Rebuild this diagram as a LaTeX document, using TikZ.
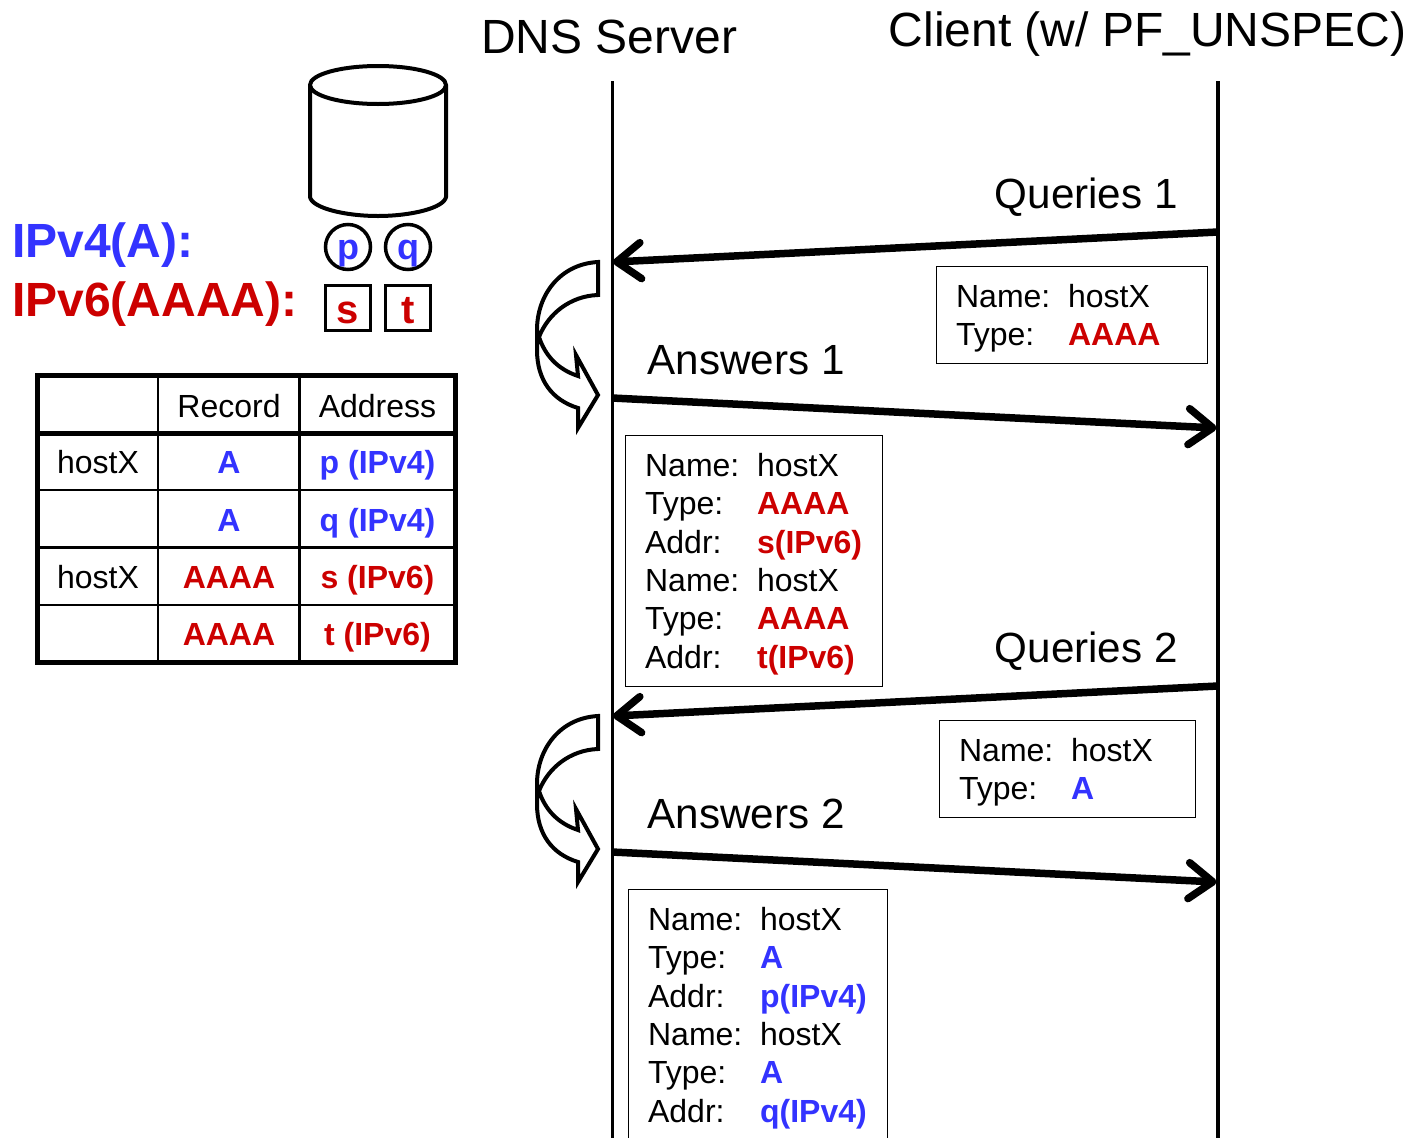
\documentclass[tikz,border=0pt]{standalone}
\usepackage{fontspec}
\setmainfont{Liberation Sans}
\usetikzlibrary{positioning,arrows.meta}
\definecolor{vfour}{RGB}{51,51,255}
\definecolor{vsix}{RGB}{204,0,0}
\tikzset{title/.style={anchor=base west,inner sep=0pt,font=\fontsize{48}{50}\selectfont},
	 msglabel/.style={anchor=base west,inner sep=0pt,font=\fontsize{42.2}{44}\selectfont},
	 family/.style={anchor=base west,inner sep=0pt,font=\fontsize{48}{50}\selectfont\bfseries},
	 cell/.style={anchor=base,inner sep=0pt,font=\fontsize{32}{34}\selectfont},
	 bcell/.style={cell,font=\fontsize{32}{34}\selectfont\bfseries},
	 caddr/.style={circle,draw=black,line width=3.5pt,inner sep=0pt,minimum size=45pt,text height=25pt,text depth=0pt,text=vfour,font=\fontsize{36}{38}\selectfont\bfseries},
	 saddr/.style={rectangle,draw=black,line width=3.5pt,inner sep=0pt,minimum size=45pt,text height=30pt,text depth=0pt,text=vsix,font=\fontsize{40}{42}\selectfont\bfseries},
	 msgbox/.style={draw,line width=1.2pt,anchor=north west,inner xsep=20pt,inner ysep=11.5pt,align=left,text width=#1,
		font=\fontsize{32}{38.3}\selectfont,execute at begin node={\rule{0pt}{29.5pt}}},
	 lifeline/.style={line width=3.5pt},
	 msg/.style={line width=7.5pt,-{Straight Barb[length=24pt,width=36pt,round]}},
	 grid/.style={line width=2.5pt},
	 frame/.style={line width=5pt},
	 turn/.pic={\draw[line width=4pt,line join=miter,fill=white] (598,262) .. controls (560,264) and (537,295) .. (537,330) -- (537,350)
		.. controls (537,380) and (552,400) .. (578,408) -- (578,428) -- (598,395) -- (576,355) -- (578,376)
		.. controls (557,369) and (545,355) .. (539,337) .. controls (548,314) and (570,296) .. (598,295) -- cycle;}
	 }
\newcommand{\recline}[2]{\makebox[112pt][l]{#1}#2}
\newcommand{\vf}[1]{\textcolor{vfour}{\bfseries #1}}
\newcommand{\vs}[1]{\textcolor{vsix}{\bfseries #1}}

\begin{document}
\begin{tikzpicture}[x=1pt,y=-1pt] % sizes are reference pixels
	\useasboundingbox (0,0) rectangle (1409,1138);
	% lifelines
	\coordinate (srvtop) at (612.5,81); \coordinate (srvend) at (612.5,1145);
	\coordinate (clitop) at (1218,81); \coordinate (cliend) at (1218,1145);
	\draw [lifeline] (srvtop) to (srvend); \draw [lifeline] (clitop) to (cliend);
	\node[title] (srv) at (481,53) {DNS Server};
	\node[title] (cli) at (888.5,46.5) {Client (w/ PF\_UNSPEC)};
	% messages
	\coordinate (q1a) at (1218,232); \coordinate (q1b) at (613,262);
	\coordinate (a1a) at (612,398); \coordinate (a1b) at (1216.5,428);
	\coordinate (q2a) at (1218,686); \coordinate (q2b) at (613,716);
	\coordinate (a2a) at (612,852); \coordinate (a2b) at (1216.5,882);
	\draw [msg] (q1a) to (q1b); \draw [msg] (a1a) to (a1b);
	\draw [msg] (q2a) to (q2b); \draw [msg] (a2a) to (a2b);
	\node[msglabel] (q1) at (994.5,208) {Queries 1};
	\node[msglabel] (a1) at (647.5,374) {Answers 1};
	\node[msglabel] (q2) at (994.5,662) {Queries 2};
	\node[msglabel] (a2) at (647.5,828) {Answers 2};
	\node[msgbox=231pt] (q1box) at (935.5,265.5) {\recline{Name:}{hostX}\\ \recline{Type:}{\vs{AAAA}}};
	\node[msgbox=217pt] (a1box) at (624.5,435) {\recline{Name:}{hostX}\\ \recline{Type:}{\vs{AAAA}}\\ \recline{Addr:}{\vs{s(IPv6)}}\\
		\recline{Name:}{hostX}\\ \recline{Type:}{\vs{AAAA}}\\ \recline{Addr:}{\vs{t(IPv6)}}};
	\node[msgbox=216pt] (q2box) at (938.5,719.5) {\recline{Name:}{hostX}\\ \recline{Type:}{\vf{A}}};
	\node[msgbox=219pt] (a2box) at (627.5,889) {\recline{Name:}{hostX}\\ \recline{Type:}{\vf{A}}\\ \recline{Addr:}{\vf{p(IPv4)}}\\
		\recline{Name:}{hostX}\\ \recline{Type:}{\vf{A}}\\ \recline{Addr:}{\vf{q(IPv4)}}};
	\pic at (0,0) {turn}; \pic at (0,454) {turn};
	% database and its addresses
	\draw [line width=4pt] (310,85) arc [x radius=68,y radius=19,start angle=180,end angle=-180]
		-- (310,197) .. controls (312,208) and (345,216) .. (378,216) .. controls (411,216) and (444,208) .. (446,197) -- (446,85);
	\node[family,text=vfour] (v4) at (12,257) {IPv4(A):};
	\node[family,text=vsix] (v6) at (12,316) {IPv6(AAAA):};
	\node[caddr] (p) at (348,247) {p}; \node[caddr] (q) [right=11.5pt of p] {q};
	\node[saddr] (s) at (348,308) {s}; \node[saddr] (t) [right=11.5pt of s] {t};
	% record table
	\draw [frame] (37.5,375.5) rectangle (455.5,662);
	\draw [frame] (37.5,433) -- (455.5,433);
	\foreach \y in {490,547.5,605} {\draw [grid] (37.5,\y) -- (455.5,\y);}
	\foreach \x in {158,299.5} {\draw [grid] (\x,375.5) -- (\x,662);}
	\node[cell] (hrec) at (229,417) {Record}; \node[cell] (hadr) at (377.5,417) {Address};
	\node[cell] (h1) at (98,473.5) {hostX}; \node[cell] (h3) at (98,588.5) {hostX};
	\node[bcell,text=vfour] (r1) at (229,473) {A}; \node[bcell,text=vfour] (d1) at (377.5,473) {p (IPv4)};
	\node[bcell,text=vfour] (r2) at (229,531) {A}; \node[bcell,text=vfour] (d2) at (377.5,531) {q (IPv4)};
	\node[bcell,text=vsix] (r3) at (229,588) {AAAA}; \node[bcell,text=vsix] (d3) at (377.5,588) {s (IPv6)};
	\node[bcell,text=vsix] (r4) at (229,645) {AAAA}; \node[bcell,text=vsix] (d4) at (377.5,645) {t (IPv6)};
\end{tikzpicture}
\end{document}
